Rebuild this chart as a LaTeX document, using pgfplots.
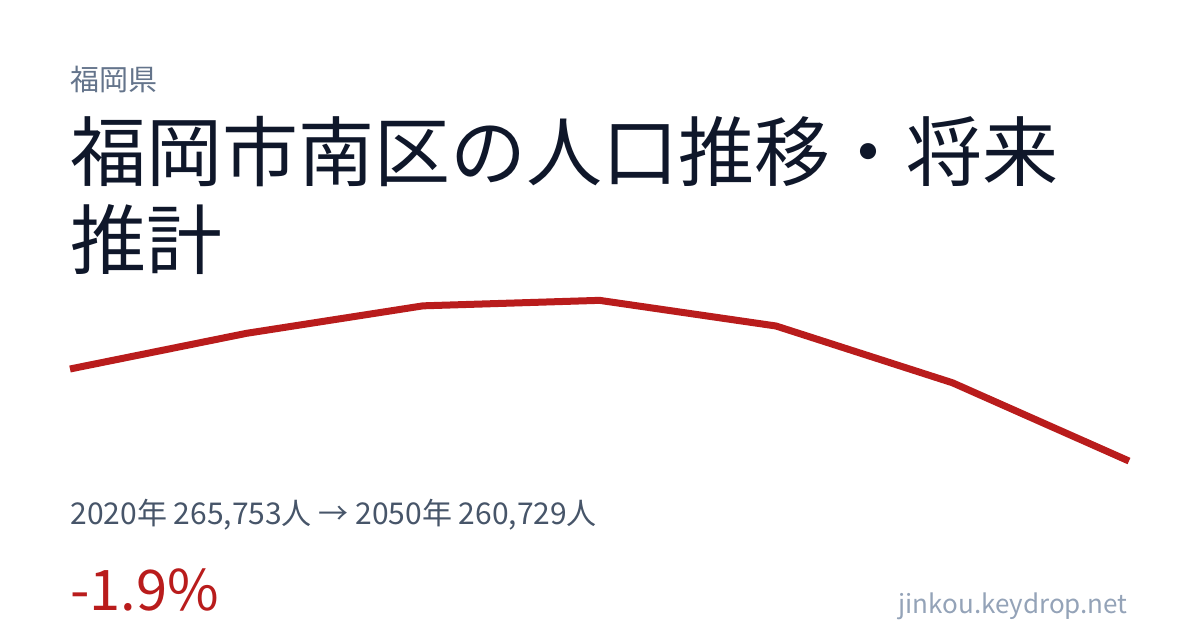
\documentclass[border=0pt]{standalone}
\usepackage{fontspec}
\setmainfont{Noto Sans CJK JP}
\usepackage{pgfplots}
\pgfplotsset{compat=1.18}

\definecolor{titlecol}{HTML}{0F172A}
\definecolor{subcol}{HTML}{64748B}
\definecolor{infocol}{HTML}{475569}
\definecolor{linecol}{HTML}{B91C1C}
\definecolor{sitecol}{HTML}{94A3B8}

\begin{document}
\begin{tikzpicture}[x=0.5pt,y=0.5pt]
  % canvas 1200 x 630 px
  \path[fill=white,use as bounding box] (0,0) rectangle (1200,630);

  \node[anchor=west,inner sep=0,text=subcol,font=\fontsize{14.5pt}{16pt}\selectfont] at (70,550) {福岡県};
  \node[anchor=west,inner sep=0,text=titlecol,font=\fontsize{38pt}{44pt}\selectfont] at (70,478) {福岡市南区の人口推移・将来};
  \node[anchor=west,inner sep=0,text=titlecol,font=\fontsize{38pt}{44pt}\selectfont] at (70,390) {推計};

  \begin{axis}[
    at={(35pt,77.8pt)}, anchor=south west,
    width=529.5pt, height=91.6pt,
    scale only axis,
    hide axis,
    clip=false,
    xmin=2020, xmax=2050,
    ymin=260000, ymax=270000,
  ]
    % population
    \addplot[linecol, line width=3.5pt, line cap=butt, mark=none]
      coordinates {(2020,265753) (2025,267700) (2030,269200) (2035,269500)
                   (2040,268100) (2045,265000) (2050,260729)};
  \end{axis}

  \node[anchor=west,inner sep=0,text=infocol,font=\fontsize{15pt}{17pt}\selectfont] at (70,115) {2020年 265,753人 → 2050年 260,729人};
  \node[anchor=west,inner sep=0,text=linecol,font=\fontsize{28pt}{32pt}\selectfont] at (70,40) {-1.9\%};
  \node[anchor=east,inner sep=0,text=sitecol,font=\fontsize{13pt}{15pt}\selectfont] at (1128,24) {jinkou.keydrop.net};
\end{tikzpicture}
\end{document}
